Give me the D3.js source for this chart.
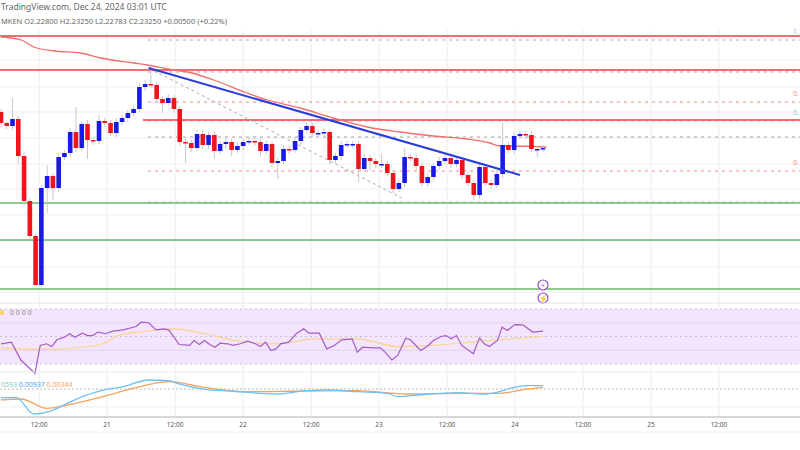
<!DOCTYPE html>
<html><head><meta charset="utf-8">
<script src="https://cdn.jsdelivr.net/npm/d3@7"></script>
<style>body{margin:0;background:#fff}svg{display:block;font-family:"Noto Sans",sans-serif}</style>
</head><body><svg id="c" width="800" height="450"></svg>
<script>
const firstOpen = 2.388;
const closes = [2.377,2.374,2.381,2.344,2.299,2.264,2.215,2.312,2.324,2.312,2.343,2.347,2.368,2.352,2.376,2.36,2.359,2.379,2.377,2.367,2.378,2.382,2.387,2.391,2.413,2.416,2.415,2.401,2.397,2.402,2.391,2.358,2.357,2.352,2.366,
2.355,2.365,2.349,2.356,2.358,2.35,2.354,2.358,2.359,2.358,2.349,2.356,2.337,2.339,2.351,2.35,2.359,2.37,2.374,2.367,2.367,2.368,2.34,2.344,2.355,2.356,2.356,2.331,2.342,2.339,2.336,
2.336,2.327,2.311,2.317,2.343,2.342,2.334,2.317,2.323,2.334,2.339,2.342,2.336,2.34,2.325,2.317,2.305,2.333,2.317,2.315,2.326,2.355,2.35,2.364,2.366,2.365,2.351,2.351,2.352];
const wickUp = [0.003,0.002,0.021,0.003,0.004,0.003,0.002,0.003,0.011,0.003,0.004,0.003,0.004,0.025,0.003,0.004,0.003,0.006,0.003,0.003,0.004,0.003,0.003,0.003,0.004,0.004,0.02,0.003,0.003,0.004,0.003,0.003,0.003,0.003,0.004,
0.004,0.003,0.004,0.003,0.004,0.003,0.004,0.003,0.004,0.003,0.003,0.004,0.003,0.003,0.004,0.003,0.004,0.003,0.004,0.003,0.003,0.004,0.003,0.003,0.004,0.003,0.003,0.003,0.004,0.003,0.003,
0.01,0.003,0.003,0.004,0.009,0.003,0.004,0.003,0.004,0.003,0.004,0.003,0.003,0.004,0.003,0.003,0.003,0.004,0.003,0.003,0.004,0.022,0.003,0.004,0.003,0.003,0.004,0.003,0.003];
const wickDn = [0.004,0.003,0.004,0.008,0.004,0.003,0.002,0.002,0.025,0.012,0.004,0.003,0.004,0.004,0.003,0.019,0.004,0.003,0.004,0.003,0.004,0.003,0.004,0.003,0.003,0.004,0.003,0.004,0.01,0.003,0.004,0.004,0.02,0.004,0.003,
0.004,0.004,0.008,0.003,0.004,0.006,0.003,0.004,0.003,0.004,0.005,0.003,0.004,0.016,0.003,0.004,0.003,0.004,0.003,0.004,0.003,0.004,0.004,0.003,0.004,0.003,0.004,0.013,0.003,0.01,0.004,
0.004,0.003,0.004,0.003,0.004,0.003,0.004,0.003,0.004,0.003,0.004,0.003,0.004,0.003,0.004,0.003,0.005,0.004,0.003,0.004,0.003,0.004,0.003,0.004,0.003,0.004,0.003,0.008,0.003];
const emaIdx = [0,3.5,5.7,9.2,13.8,17.3,23,25.4,29.9,32.4,36.9,42.7,46.2,51.9,57.6,63.5,69.2,74.9,80.8,84.8,86.5,88.2,94.6];
const emaVal = [2.463,2.46,2.453,2.449,2.447,2.442,2.437,2.435,2.43,2.428,2.42,2.407,2.4,2.392,2.382,2.373,2.368,2.364,2.361,2.357,2.354,2.354,2.353];
const rsiIdx = [0,1.8,3.5,5.9,6.8,7.9,8.8,9.7,11,11.9,12.8,14.1,15,15.9,16.8,18.1,19.4,21.2,23.4,24.3,25.6,26.9,28.2,29.1,30.9,32.7,33.5,34.4,35.3,36.2,37.1,38,39.3,40.2,41.5,42.8,44.1,45,45.9,46.8,47.7,48.5,49.9,51.2,52.5,53.4,55.2,56.5,57.8,59.1,60.9,61.8,62.7,64.4,65.8,66.6,67.8,68.8,70.2,71,72.8,74.1,75,76.3,77.2,78.1,79,79.9,80.8,81.9,83,83.8,84.7,86.1,86.9,87.8,89.1,90.5,92.2,94];
const rsiVal = [44.7,45.9,32.5,23.3,43.5,44.7,42.7,47.6,49.5,52,49.5,52.4,50.7,50.7,53.2,52,53.9,54.8,57.3,60.4,60,54.8,55.6,54.8,44.2,43.5,47.1,44.2,47.1,44.2,42.2,45.1,44.7,43.5,44.7,46.6,44.7,42.7,45.9,39.8,41,44.7,45.9,52,55.6,52.4,52.4,41,43.5,47.6,48.3,38.6,42.2,41.8,41.8,38.6,33,36.2,48.8,47.6,39.8,43.5,47.1,50,50.7,48.3,50.7,43.5,41,37.4,49,44.7,42.7,47.1,56.8,54.3,58.7,58.5,53.2,53.9];
const rsiMaIdx = [0,7.1,13.2,17.7,20.3,26.5,30,35.3,40.6,47.7,54.7,61.8,68.8,75,79.4,84.7,88.3,94];
const rsiMaVal = [41.8,40.7,41.8,44.7,50.7,54.4,55.6,52,47.1,44.7,48.3,48.3,42.7,43.5,45.1,47.1,48.3,50];
const macdIdx = [0,2.6,5.7,8.8,11.5,14.1,17.7,21.2,25.6,29.1,30.9,35.3,39.7,47.7,53,56.5,61.8,67.1,68.8,72.4,79.4,83.8,86.5,88.3,90.9,94];
const macdVal = [-0.0248,-0.0238,-0.0714,-0.0619,-0.041,-0.0219,-0.0029,0.0067,0.0257,0.0238,0.0143,-0.001,-0.0057,-0.0143,-0.0048,-0.0029,-0.0076,-0.0124,-0.0219,-0.0171,-0.0105,-0.0143,-0.0076,0.0019,0.0095,0.0095];
const sigIdx = [0,3.5,7.9,11.5,17.7,22.9,29.1,35.3,42.4,53,61.8,70.6,79.4,86.5,90.9,94];
const sigVal = [-0.0314,-0.0286,-0.0552,-0.0457,-0.0219,0.0019,0.021,0.0048,-0.0076,-0.0057,-0.0048,-0.0143,-0.0124,-0.0124,-0.001,0.0048];
const levelsSolidRed = [2.464,2.43,2.38];
const levelsGreen = [2.297,2.26,2.211];
const fibLevels = [{p:2.462,c:"#b39ddb",l:"1."},{p:2.43,c:"#aaaaaa",l:""},{p:2.40,c:"#f28b82",l:"0."},{p:2.381,c:"#80cbc4",l:"0."},{p:2.365,c:"#b0a0a0",l:""},{p:2.331,c:"#f28b82",l:"0."},{p:2.30,c:"#bbbbbb",l:""}];
const tickLabels = ["12:00","21","12:00","22","12:00","23","12:00","24","12:00","25","12:00"];
const tickHours = [-12,0,12,24,36,48,60,72,84,96,108];
const gridPrices = [2.44,2.413,2.388,2.362,2.336,2.311,2.285,2.259,2.233,2.208];

const svg = d3.select("#c");
const x = d3.scaleLinear().domain([-18.9, 122.3]).range([0, 800]); // hours relative to Dec 21 00:00
const xi = d3.scaleLinear().domain([0, 94]).range([1, 543]); // candle index
const y = d3.scaleLinear().domain([2.5, 2.05]).range([0, 450]);
const yR = d3.scaleLinear().domain([30, 70]).range([364, 309]);
const yM = d3.scaleLinear().domain([0, 0.01]).range([389, 385.5]);

svg.append("g").selectAll("line").data(tickHours).join("line")
 .attr("x1",d=>x(d)).attr("x2",d=>x(d)).attr("y1",30).attr("y2",417).attr("stroke","#ececec");
svg.append("g").selectAll("line").data(gridPrices).join("line")
 .attr("x1",0).attr("x2",800).attr("y1",d=>y(d)).attr("y2",d=>y(d)).attr("stroke","#efefef");

svg.append("g").selectAll("line").data(fibLevels).join("line")
 .attr("x1",148).attr("x2",800).attr("y1",d=>y(d.p)+2).attr("y2",d=>y(d.p)+2)
 .attr("stroke",d=>d.c).attr("stroke-dasharray","3,4").attr("stroke-width",1.2);
svg.append("g").selectAll("text").data(fibLevels.filter(d=>d.l)).join("text")
 .attr("x",793).attr("y",d=>y(d.p)-4).attr("font-size",7).attr("fill",d=>d.c).text(d=>d.l);
svg.append("g").selectAll("line").data(levelsSolidRed).join("line")
 .attr("x1",d=>d===2.38?143:0).attr("x2",800).attr("y1",d=>y(d)).attr("y2",d=>y(d)).attr("stroke","#f26d6d").attr("stroke-width",2);
svg.append("g").selectAll("line").data(levelsGreen).join("line")
 .attr("x1",0).attr("x2",800).attr("y1",d=>y(d)).attr("y2",d=>y(d)).attr("stroke","#66bb6a").attr("stroke-width",1.3);

svg.append("line").attr("x1",xi(25.6)).attr("y1",y(2.432)).attr("x2",xi(69.5)).attr("y2",y(2.302))
 .attr("stroke","#aaa").attr("stroke-dasharray","3,3");
const line = d3.line().curve(d3.curveMonotoneX);
svg.append("path").attr("d",line(emaIdx.map((d,i)=>[xi(d),y(emaVal[i])]))).attr("fill","none").attr("stroke","#f26d6d").attr("stroke-width",1.3);
const opens = closes.map((c,i)=> i===0?firstOpen:closes[i-1]);
const g = svg.append("g");
closes.forEach((c,i)=>{
  const o=opens[i], up=c>=o, col=up?"#1a1ae6":"#f0141e";
  const hi=Math.max(o,c)+wickUp[i], lo=Math.min(o,c)-wickDn[i];
  g.append("line").attr("x1",xi(i)).attr("x2",xi(i)).attr("y1",y(hi)).attr("y2",y(lo)).attr("stroke","#c8c8c8");
  g.append("rect").attr("x",xi(i)-2.3).attr("width",4.6).attr("y",y(Math.max(o,c))).attr("height",Math.max(1.5,Math.abs(y(o)-y(c)))).attr("fill",col);
});
svg.append("line").attr("x1",xi(25.6)).attr("y1",y(2.432)).attr("x2",xi(90)).attr("y2",y(2.325)).attr("stroke","#2a3de0").attr("stroke-width",2);

[285,298].forEach(cy=>{svg.append("circle").attr("cx",543).attr("cy",cy).attr("r",5).attr("fill","#fff").attr("stroke","#9c4dcc").attr("stroke-width",1.2);
 svg.append("text").attr("x",543).attr("y",cy+3).attr("text-anchor","middle").attr("font-size",7).attr("fill","#9c4dcc").text(cy===285?"+":"⚡");});

svg.append("line").attr("x1",0).attr("x2",800).attr("y1",303).attr("y2",303).attr("stroke","#e4e4e4");
svg.append("rect").attr("x",0).attr("width",800).attr("y",yR(70)).attr("height",yR(30)-yR(70)).attr("fill","#f3e5fd");
[70,30,50].forEach(v=>svg.append("line").attr("x1",0).attr("x2",800).attr("y1",yR(v)).attr("y2",yR(v)).attr("stroke","#c9c0d0").attr("stroke-dasharray","2,3"));
[60,40].forEach(v=>svg.append("line").attr("x1",0).attr("x2",800).attr("y1",yR(v)).attr("y2",yR(v)).attr("stroke","#e2d2ee"));
svg.append("path").attr("d",line(rsiMaIdx.map((d,i)=>[xi(d),yR(rsiMaVal[i])]))).attr("fill","none").attr("stroke","#fbd38a").attr("stroke-width",1.2);
svg.append("path").attr("d",d3.line()(rsiIdx.map((d,i)=>[xi(d),yR(rsiVal[i])]))).attr("fill","none").attr("stroke","#a35cc9").attr("stroke-width",1.2);
svg.append("rect").attr("x",0).attr("y",310).attr("width",4).attr("height",5).attr("fill","#f5d76e");
svg.append("text").attr("x",10).attr("y",315).attr("font-size",7).attr("fill","#888").text("0  0  0  0");

svg.append("line").attr("x1",0).attr("x2",800).attr("y1",372).attr("y2",372).attr("stroke","#ececec");
svg.append("line").attr("x1",0).attr("x2",800).attr("y1",yM(0)).attr("y2",yM(0)).attr("stroke","#bbb").attr("stroke-dasharray","2,2");
svg.append("line").attr("x1",0).attr("x2",800).attr("y1",407).attr("y2",407).attr("stroke","#efefef");
svg.append("path").attr("d",line(sigIdx.map((d,i)=>[xi(d),yM(sigVal[i])]))).attr("fill","none").attr("stroke","#f7a35c").attr("stroke-width",1.3);
svg.append("path").attr("d",line(macdIdx.map((d,i)=>[xi(d),yM(macdVal[i])]))).attr("fill","none").attr("stroke","#6ec1f5").attr("stroke-width",1.3);
const lg = svg.append("text").attr("y",387).attr("font-size",7);
lg.append("tspan").attr("x",1).attr("fill","#80cbc4").text("0593 ");
lg.append("tspan").attr("fill","#42a5f5").text("0.00937 ");
lg.append("tspan").attr("fill","#f7a35c").text("0.00344");

svg.append("line").attr("x1",0).attr("x2",800).attr("y1",417).attr("y2",417).attr("stroke","#b0b0b0").attr("stroke-width",1.2);
svg.append("line").attr("x1",0).attr("x2",800).attr("y1",432).attr("y2",432).attr("stroke","#f0f0f0");
svg.append("g").selectAll("text").data(tickHours).join("text")
 .attr("x",d=>x(d)).attr("y",427).attr("text-anchor","middle").attr("font-size",6.5).attr("fill","#555").text((d,i)=>tickLabels[i]);

svg.append("text").attr("x",1).attr("y",10).attr("font-size",8.5).attr("fill","#666").text("TradingView.com, Dec 24, 2024 03:01 UTC");
svg.append("text").attr("x",1).attr("y",24).attr("font-size",7.5).attr("fill","#666").text("MKEN  O2.22800  H2.23250  L2.22783  C2.23250  +0.00500 (+0.22%)");
</script></body></html>
